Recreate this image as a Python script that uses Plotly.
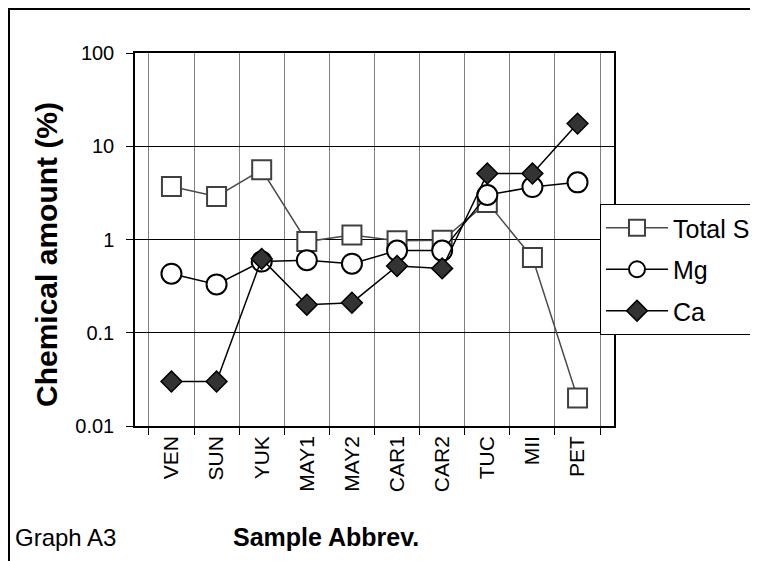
import plotly.graph_objects as go

categories = ["VEN", "SUN", "YUK", "MAY1", "MAY2", "CAR1", "CAR2", "TUC", "MII", "PET"]
total_s = [3.7, 2.9, 5.6, 0.95, 1.12, 0.97, 0.98, 2.5, 0.64, 0.02]
mg = [0.43, 0.33, 0.58, 0.6, 0.55, 0.76, 0.76, 3.0, 3.65, 4.1]
ca = [0.03, 0.03, 0.62, 0.2, 0.21, 0.52, 0.49, 5.1, 5.1, 17.5]
ytick_vals = [0.01, 0.1, 1, 10, 100]
ytick_text = ["0.01", "0.1", "1", "10", "100"]

FONT = "Liberation Sans, Arial, sans-serif"

fig = go.Figure()
fig.add_trace(go.Scatter(
    x=categories, y=total_s, name="Total S", mode="lines+markers", legendgroup="a",
    line=dict(color="#4a4a4a", width=1.5),
    marker=dict(symbol="square", size=19, color="white", line=dict(color="#404040", width=2)),
))
fig.add_trace(go.Scatter(
    x=categories, y=mg, name="Mg", mode="lines+markers", legendgroup="b",
    line=dict(color="black", width=1.5),
    marker=dict(symbol="circle", size=20, color="white", line=dict(color="black", width=2)),
))
fig.add_trace(go.Scatter(
    x=categories, y=ca, name="Ca", mode="lines+markers", legendgroup="c",
    line=dict(color="black", width=1.5),
    marker=dict(symbol="diamond", size=16, color="#333333", line=dict(color="black", width=1.5)),
))

# page body has an 8px default margin; figure is sized so that it fills the window
OFF = 8
W, H = 758 - OFF, 561 - OFF
L, R, T, B = 135, 614, 53, 426  # plot area in window pixels


def px(xp):
    return (xp - L) / (R - L)


def py(yp):
    return (B - yp) / (B - T)


fig.update_layout(
    width=W, height=H,
    margin=dict(l=L - OFF, r=W - (R - OFF), t=T - OFF, b=H - (B - OFF), autoexpand=False),
    paper_bgcolor="white", plot_bgcolor="white",
    font=dict(family=FONT, color="black"),
    showlegend=True,
    legend=dict(
        x=px(600), y=py(204), xanchor="left", yanchor="top",
        bgcolor="white", bordercolor="black", borderwidth=1,
        font=dict(size=25, family=FONT, color="black"),
        itemwidth=62, tracegroupgap=6,
        entrywidth=220, entrywidthmode="pixels",
    ),
    xaxis=dict(
        type="category", tickson="boundaries", ticks="outside", ticklen=7,
        tickcolor="black", tickangle=-90, tickfont=dict(size=21, family=FONT),
        showgrid=True, gridcolor="#808080", gridwidth=1,
        showline=True, linecolor="black", linewidth=1.5, mirror=True,
    ),
    yaxis=dict(
        type="log", range=[-2, 2], tickvals=ytick_vals, ticktext=ytick_text,
        ticks="outside", ticklen=7, tickcolor="black", ticklabelstandoff=8,
        tickfont=dict(size=20, family=FONT),
        showgrid=True, gridcolor="black", gridwidth=1,
        showline=True, linecolor="black", linewidth=1.5, mirror=True,
        zeroline=False,
    ),
    shapes=[dict(
        type="rect", xref="paper", yref="paper",
        x0=px(9), x1=px(900), y0=py(800), y1=py(9),
        line=dict(color="black", width=2), fillcolor="rgba(0,0,0,0)", layer="below",
    )],
    annotations=[
        dict(text="<b>Chemical amount (%)</b>", xref="paper", yref="paper",
             x=px(46), y=py(255), xanchor="center", yanchor="middle",
             textangle=-90, showarrow=False, font=dict(size=30, family=FONT)),
        dict(text="<b>Sample Abbrev.</b>", xref="paper", yref="paper",
             x=px(326), y=py(537), xanchor="center", yanchor="middle",
             showarrow=False, font=dict(size=25, family=FONT)),
        dict(text="Graph A3", xref="paper", yref="paper",
             x=px(13), y=py(537), xanchor="left", yanchor="middle",
             showarrow=False, font=dict(size=24, family=FONT)),
    ],
)

fig.write_html("out.html")
